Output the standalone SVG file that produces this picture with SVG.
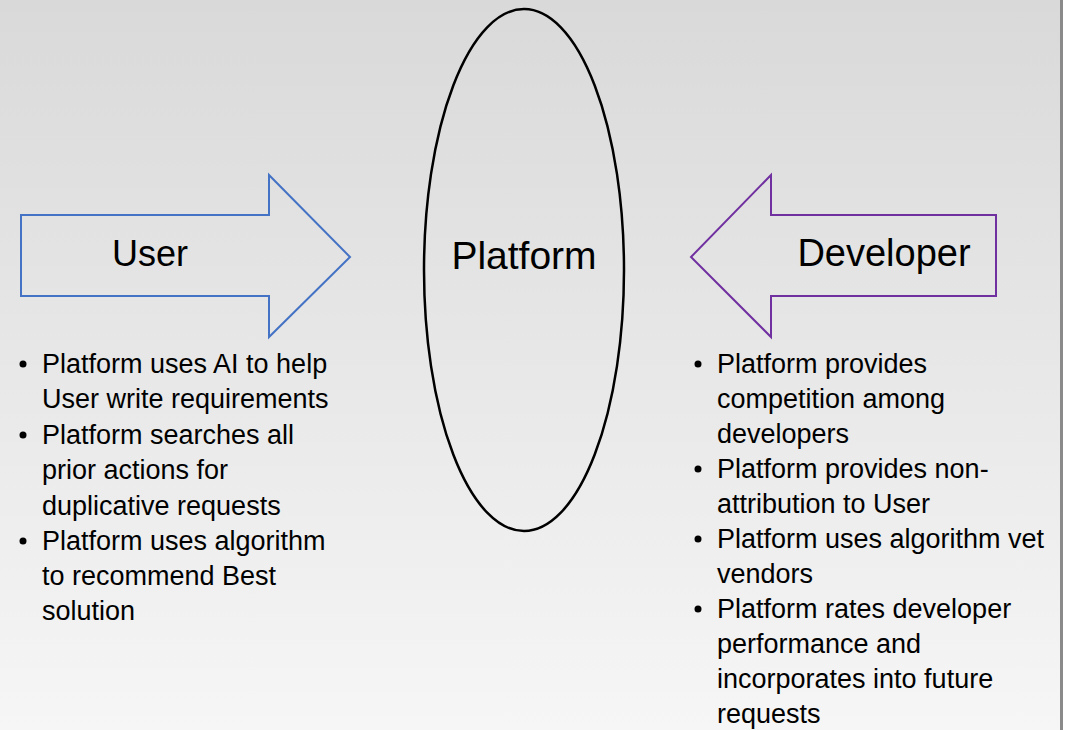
<svg xmlns="http://www.w3.org/2000/svg" width="1066" height="730" viewBox="0 0 1066 730">
  <defs>
    <linearGradient id="bg" x1="0" y1="0" x2="0" y2="1">
      <stop offset="0" stop-color="#d9d9d9"/>
      <stop offset="1" stop-color="#f6f6f6"/>
    </linearGradient>
    <style>
      .lbl { font-family: "Liberation Sans", Arial, sans-serif; fill: #000; text-anchor: middle; }
      .note { font-family: "Liberation Sans", Arial, sans-serif; font-size: 27px; fill: #000; }
      .dot { fill: #000; }
      .arrow { fill: none; stroke-width: 2; stroke-linejoin: miter; }
    </style>
  </defs>
  <rect x="0" y="0" width="1066" height="730" fill="#ffffff"/>
  <rect x="0" y="0" width="1061" height="730" fill="url(#bg)"/>
  <line x1="1061.5" y1="0" x2="1061.5" y2="730" stroke="#8a8a8a" stroke-width="3"/>

  <g id="connectors"/>

  <g id="user">
    <path class="arrow" stroke="#4472c4" d="M21,215 H269 V175 L350,257 L269,337 V296 H21 Z"/>
    <text class="lbl" x="150" y="266" font-size="36">User</text>
  </g>

  <g id="platform">
    <ellipse cx="524" cy="270" rx="100" ry="261" fill="none" stroke="#000" stroke-width="2.5"/>
    <text class="lbl" x="524" y="269" font-size="39">Platform</text>
  </g>

  <g id="developer">
    <path class="arrow" stroke="#7030a0" d="M996,215 H771 V175 L691,257 L771,337 V296 H996 Z"/>
    <text class="lbl" x="884" y="266" font-size="38">Developer</text>
  </g>

  <g id="user-notes">
    <circle class="dot" cx="23" cy="364" r="3.5"/>
    <circle class="dot" cx="23" cy="435" r="3.5"/>
    <circle class="dot" cx="23" cy="541" r="3.5"/>
    <text class="note">
      <tspan x="42" y="373">Platform uses AI to help</tspan>
      <tspan x="42" y="408">User write requirements</tspan>
      <tspan x="42" y="444">Platform searches all</tspan>
      <tspan x="42" y="479">prior actions for</tspan>
      <tspan x="42" y="515">duplicative requests</tspan>
      <tspan x="42" y="550">Platform uses algorithm</tspan>
      <tspan x="42" y="585">to recommend Best</tspan>
      <tspan x="42" y="620">solution</tspan>
    </text>
  </g>

  <g id="developer-notes">
    <circle class="dot" cx="698" cy="364" r="3.5"/>
    <circle class="dot" cx="698" cy="469" r="3.5"/>
    <circle class="dot" cx="698" cy="539" r="3.5"/>
    <circle class="dot" cx="698" cy="609" r="3.5"/>
    <text class="note">
      <tspan x="717" y="373">Platform provides</tspan>
      <tspan x="717" y="408">competition among</tspan>
      <tspan x="717" y="443">developers</tspan>
      <tspan x="717" y="478">Platform provides non-</tspan>
      <tspan x="717" y="513">attribution to User</tspan>
      <tspan x="717" y="548">Platform uses algorithm vet</tspan>
      <tspan x="717" y="583">vendors</tspan>
      <tspan x="717" y="618">Platform rates developer</tspan>
      <tspan x="717" y="653">performance and</tspan>
      <tspan x="717" y="688">incorporates into future</tspan>
      <tspan x="717" y="723">requests</tspan>
    </text>
  </g>
</svg>
